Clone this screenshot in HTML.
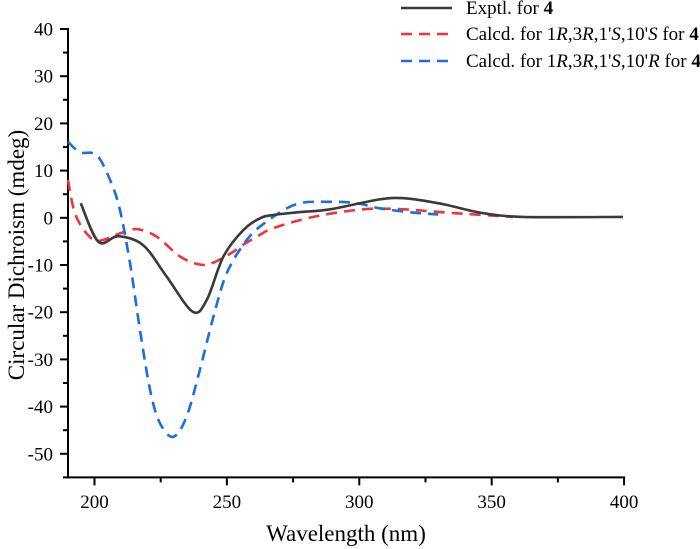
<!DOCTYPE html>
<html><head><meta charset="utf-8"><style>
html,body{margin:0;padding:0;background:#fff;}
svg{display:block;font-family:"Liberation Serif",serif;}
</style></head><body>
<svg id="chart" width="700" height="549">
<g id="axes"></g>
<g id="series"></g>
<g id="legend"></g>
</svg>
<script>
const xTicks=[200,250,300,350,400];
const yTicks=[40,30,20,10,0,-10,-20,-30,-40,-50];
const exptW=[194.8,201.5,209,218.4,227.3,237.1,242.4,248.7,256.2,262.5,267.4,277.6,289,307.8,317.9,331.6,345.6,361.8,399.6];
const exptV=[3.1,-5.1,-3.9,-5.8,-12.5,-19.9,-17.4,-8.2,-2.6,-0.1,0.6,1.2,1.8,3.9,4.1,2.9,1.1,0.2,0.2];
const redW=[190,192.6,197,201.5,209.6,216,223.5,232.3,239.8,244.9,252.4,255,262.5,267.5,282.6,301.5,316.5,333,358];
const redV=[8.0,1.0,-3.3,-4.9,-3.3,-2.4,-4.0,-8.2,-9.9,-9.5,-7.2,-6.1,-3.6,-2.2,0.2,1.8,1.8,1.1,0.2];
const blueW=[190,194.5,200.8,205.9,209.6,213.4,217.2,221,224.7,229.8,234.8,239.8,244.9,249.9,257.5,265,276.3,289,299,307.8,320.3,329.8];
const blueV=[16.1,13.9,13.3,8.0,1.7,-9.6,-23.8,-36.5,-43.5,-46.4,-42.1,-32.2,-21,-11.8,-4.7,-0.8,2.9,3.4,3.1,2.0,1.1,0.7];
const legendLabels=["Exptl. for ","Calcd. for 1R,3R,1'S,10'S for ","Calcd. for 1R,3R,1'S,10'R for "];

const NS="http://www.w3.org/2000/svg";
const X0=68,XS=2.648,Y0=217.8,YS=4.72;
function sx(w){return X0+(w-190)*XS;}
function sy(v){return Y0-v*YS;}
function mk(tag,attrs,parent){const e=document.createElementNS(NS,tag);for(const k in attrs)e.setAttribute(k,attrs[k]);parent.appendChild(e);return e;}
const axes=document.getElementById('axes');
const xb=sy(-55);
let l=mk('line',{x1:X0,y1:sy(40)-1,x2:X0,y2:xb+1,stroke:'#000','stroke-width':2},axes);


l=mk('line',{x1:X0-1,y1:xb,x2:sx(400)+1,y2:xb,stroke:'#000','stroke-width':2},axes);


for(let v=-55;v<=40;v+=5){
  const major=(v%10===0);
  mk('line',{x1:X0-(major?8:5),y1:sy(v),x2:X0,y2:sy(v),stroke:'#000','stroke-width':2},axes);
}
yTicks.forEach(v=>{
  const t=mk('text',{x:53,y:sy(v)+6.5,'text-anchor':'end','font-size':19,fill:'#000'},axes);
  t.textContent=v;
  
  
});
for(let w=200;w<=400;w+=25){
  const major=(w%50===0);
  mk('line',{x1:sx(w),y1:xb,x2:sx(w),y2:xb+(major?8:5),stroke:'#000','stroke-width':2},axes);
}
xTicks.forEach(w=>{
  const t=mk('text',{x:sx(w),y:508,'text-anchor':'middle','font-size':19,fill:'#000'},axes);
  t.textContent=w;
  
  
});
let t=mk('text',{x:346,y:541,'text-anchor':'middle','font-size':23,fill:'#000'},axes);
t.textContent='Wavelength (nm)';


t=mk('text',{x:0,y:0,'text-anchor':'middle','font-size':23,fill:'#000',transform:'translate(24,255) rotate(-90)'},axes);
t.textContent='Circular Dichroism (mdeg)';



function pathD(W,V){
  const p=W.map((w,i)=>[sx(w),sy(V[i])]);
  let d='M'+p[0][0].toFixed(1)+','+p[0][1].toFixed(1);
  for(let i=0;i<p.length-1;i++){
    const p0=p[i-1]||p[i],p1=p[i],p2=p[i+1],p3=p[i+2]||p[i+1];
    const c1=[p1[0]+(p2[0]-p0[0])/6,p1[1]+(p2[1]-p0[1])/6];
    const c2=[p2[0]-(p3[0]-p1[0])/6,p2[1]-(p3[1]-p1[1])/6];
    d+=' C'+c1.map(n=>n.toFixed(1))+' '+c2.map(n=>n.toFixed(1))+' '+p2.map(n=>n.toFixed(1));
  }
  return d;
}
const ser=document.getElementById('series');
let p=mk('path',{d:pathD(redW,redV),fill:'none',stroke:'#f0353a','stroke-width':2.6,'stroke-dasharray':'11 7'},ser);


p=mk('path',{d:pathD(blueW,blueV),fill:'none',stroke:'#1a6fe0','stroke-width':2.6,'stroke-dasharray':'11 7'},ser);


p=mk('path',{d:pathD(exptW,exptV),fill:'none',stroke:'#3a3a3a','stroke-width':2.6},ser);



const leg=document.getElementById('legend');
const cols=['#3a3a3a','#f0353a','#1a6fe0'];
const rows=[8,34,61];
legendLabels.forEach((lab,i)=>{
  const g=mk('g',{},leg);
  
  
  mk('line',{x1:401,y1:rows[i],x2:452,y2:rows[i],stroke:cols[i],'stroke-width':2.6,'stroke-dasharray':i===0?'none':'11 7'},g);
  const tx=mk('text',{x:466,y:rows[i]+6,'font-size':19,fill:'#000'},g);
  if(i===0){tx.textContent=lab;}
  else{
    const parts=[["Calcd. for 1",0],["R",1],[",3",0],["R",1],[",1'",0],["S",1],[",10'",0],[i===1?"S":"R",1],[" for ",0]];
    parts.forEach(([s,it])=>{const ts=mk('tspan',it?{'font-style':'italic'}:{},tx);ts.textContent=s;});
  }
  const b=mk('tspan',{'font-weight':'bold'},tx);b.textContent='4';
});
</script>
</body></html>
